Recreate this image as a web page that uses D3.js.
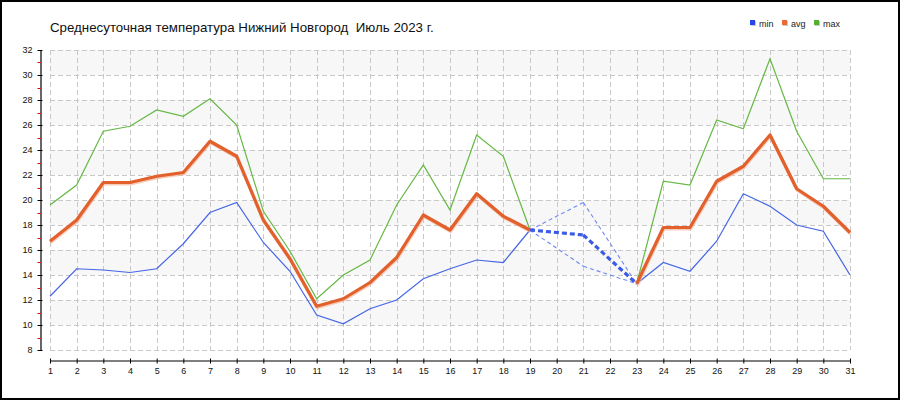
<!DOCTYPE html>
<html>
<head>
<meta charset="utf-8">
<script src="https://cdn.jsdelivr.net/npm/d3@7"></script>
<style>
  body { margin: 0; background: #fff; }
  svg { display: block; font-family: "Liberation Sans", Arial, sans-serif; }
</style>
</head>
<body>
<div id="chart"></div>
<script>
var days = [1, 2, 3, 4, 5, 6, 7, 8, 9, 10, 11, 12, 13, 14, 15, 16, 17, 18, 19, 20, 21, 22, 23, 24, 25, 26, 27, 28, 29, 30, 31];
var yTicks = [8, 10, 12, 14, 16, 18, 20, 22, 24, 26, 28, 30, 32];
var yMinorTicks = [9, 11, 13, 15, 17, 19, 21, 23, 25, 27, 29, 31];

// null = no data for that day
var minT = [12.3, 14.5, 14.4, 14.2, 14.5, 16.5, 19.0, 19.8, 16.6, 14.3, 10.8, 10.1, 11.3, 12.0, 13.7, 14.5, 15.2, 15.0, 17.6, null, 14.7, null, 13.3, 15.0, 14.3, 16.7, 20.5, 19.5, 18.0, 17.5, 14.0];
var avgT = [16.7, 18.4, 21.4, 21.4, 21.9, 22.2, 24.7, 23.5, 18.4, 15.3, 11.5, 12.1, 13.4, 15.4, 18.8, 17.6, 20.5, 18.7, 17.6, null, 17.2, null, 13.3, 17.8, 17.8, 21.5, 22.7, 25.2, 20.9, 19.5, 17.4];
var maxT = [19.6, 21.2, 25.5, 25.9, 27.2, 26.7, 28.1, 26.0, 19.1, 15.9, 12.1, 14.0, 15.2, 19.6, 22.8, 19.2, 25.2, 23.5, 17.6, null, 19.8, null, 13.3, 21.5, 21.2, 26.4, 25.7, 31.3, 25.5, 21.7, 21.7];

var title = "Среднесуточная температура Нижний Новгород  Июль 2023 г.";
var seriesNames = ["min", "avg", "max"];

(function chart() {
var W = 900, H = 400;
var pLeft = 50, pRight = 850, pTop = 50, pBottom = 350;

var svg = d3.select("#chart").append("svg")
    .attr("width", W)
    .attr("height", H);

var x = d3.scaleLinear().domain([1, 31]).range([pLeft, pRight]);
var y = d3.scaleLinear().domain([8, 32]).range([pBottom, pTop]);

// alternating bands
var bands = yTicks.filter(function(v) { return v >= 10 && v < 32 && (v / 2) % 2 == 1; });
svg.append("g").selectAll("rect")
    .data(bands)
  .enter().append("rect")
    .attr("x", pLeft)
    .attr("width", pRight - pLeft)
    .attr("y", function(d) { return y(d + 2); })
    .attr("height", function(d) { return y(d) - y(d + 2); })
    .attr("fill", "#f7f7f7");

// grid
var grid = svg.append("g")
    .attr("stroke", "#c8c8c8")
    .attr("stroke-dasharray", "5,3")
    .attr("shape-rendering", "crispEdges");
grid.selectAll(".h")
    .data(yTicks)
  .enter().append("line")
    .attr("x1", pLeft).attr("x2", pRight)
    .attr("y1", function(d) { return Math.round(y(d)) + 0.5; })
    .attr("y2", function(d) { return Math.round(y(d)) + 0.5; });
grid.selectAll(".v")
    .data(days)
  .enter().append("line")
    .attr("y1", pTop).attr("y2", pBottom)
    .attr("x1", function(d) { return Math.round(x(d)) + 0.5; })
    .attr("x2", function(d) { return Math.round(x(d)) + 0.5; });

// y axis
var yAxis = svg.append("g")
    .attr("transform", "translate(40.5,0)")
    .call(d3.axisLeft(y).tickValues(yTicks).tickSizeInner(3).tickSizeOuter(0).tickPadding(5));
yAxis.selectAll(".tick line").attr("x2", 2).attr("x1", -3);
yAxis.select(".domain").attr("stroke-width", 1.2);

svg.append("g")
    .attr("transform", "translate(40.5,0)")
  .selectAll("line")
    .data(yMinorTicks)
  .enter().append("line")
    .attr("x1", -3).attr("x2", 0)
    .attr("y1", function(d) { return Math.round(y(d)) + 0.5; })
    .attr("y2", function(d) { return Math.round(y(d)) + 0.5; })
    .attr("stroke", "#e00000");

// x axis
var xAxis = svg.append("g")
    .attr("transform", "translate(0,360.5)")
    .call(d3.axisBottom(x).tickValues(days).tickFormat(d3.format("d")).tickSizeInner(3).tickSizeOuter(0).tickPadding(4));
xAxis.selectAll(".tick line").attr("y1", -2);
xAxis.select(".domain").attr("stroke-width", 1.2);

svg.selectAll(".tick text")
    .attr("font-size", 9)
    .attr("font-family", "'Liberation Sans', Arial, sans-serif")
    .attr("fill", "#111");

// lines
function pts(arr) {
  return arr.map(function(v, i) { return {day: days[i], v: v}; });
}
var line = d3.line()
    .defined(function(d) { return d.v !== null; })
    .x(function(d) { return x(d.day); })
    .y(function(d) { return y(d.v); });

// connecting lines across days without data
function gaps(arr) {
  var p = pts(arr).filter(function(d) { return d.v !== null; });
  var out = [];
  for (var i = 1; i < p.length; i++) {
    if (p[i].day - p[i - 1].day > 1) out.push([p[i - 1], p[i]]);
  }
  return out;
}

var plot = svg.append("g");

plot.append("path")
    .datum(pts(maxT))
    .attr("d", line)
    .attr("fill", "none")
    .attr("stroke", "#66b845")
    .attr("stroke-width", 1.2);

plot.append("path")
    .datum(pts(minT))
    .attr("d", line)
    .attr("fill", "none")
    .attr("stroke", "#4565e6")
    .attr("stroke-width", 1.2);

plot.append("path")
    .datum(pts(avgT))
    .attr("d", line)
    .attr("transform", "translate(0.5,1.2)")
    .attr("fill", "none")
    .attr("stroke", "#f4b79c")
    .attr("stroke-width", 3.5)
    .attr("opacity", 0.7);

plot.append("path")
    .datum(pts(avgT))
    .attr("d", line)
    .attr("fill", "none")
    .attr("stroke", "#e2602c")
    .attr("stroke-width", 3.2)
    .attr("stroke-linejoin", "round");

var dashLine = d3.line()
    .x(function(d) { return x(d.day); })
    .y(function(d) { return y(d.v); });

[minT, maxT].forEach(function(arr) {
  plot.selectAll(null)
      .data(gaps(arr))
    .enter().append("path")
      .attr("d", dashLine)
      .attr("fill", "none")
      .attr("stroke", "#6d88f2")
      .attr("stroke-width", 1.1)
      .attr("stroke-dasharray", "4,3");
});

plot.selectAll(null)
    .data(gaps(avgT))
  .enter().append("path")
    .attr("d", dashLine)
    .attr("fill", "none")
    .attr("stroke", "#3c5ae6")
    .attr("stroke-width", 3.2)
    .attr("stroke-dasharray", "5,3");

// title
svg.append("text")
    .attr("x", 50)
    .attr("y", 32)
    .attr("font-size", 13.3)
    .attr("fill", "#111")
    .style("white-space", "pre")
    .text(title);

// legend
var color = d3.scaleOrdinal()
    .domain(seriesNames)
    .range(["#2447e8", "#ec6a34", "#56b030"]);
var legendX = [750, 782, 814];

var legend = svg.selectAll(".legend")
    .data(seriesNames)
  .enter().append("g")
    .attr("class", "legend")
    .attr("transform", function(d, i) { return "translate(" + legendX[i] + ",20)"; });

legend.append("rect")
    .attr("x", 1).attr("y", 1)
    .attr("width", 5).attr("height", 5)
    .attr("fill", "#c8c8c8");
legend.append("rect")
    .attr("width", 5).attr("height", 5)
    .attr("fill", function(d) { return color(d); });
legend.append("text")
    .attr("x", 9)
    .attr("y", 6.5)
    .attr("font-size", 9)
    .attr("fill", "#222")
    .text(function(d) { return d; });

// frame
svg.append("rect")
    .attr("x", 1).attr("y", 1)
    .attr("width", W - 2).attr("height", H - 2)
    .attr("fill", "none")
    .attr("stroke", "#000")
    .attr("stroke-width", 2);
}());
</script>
</body>
</html>
